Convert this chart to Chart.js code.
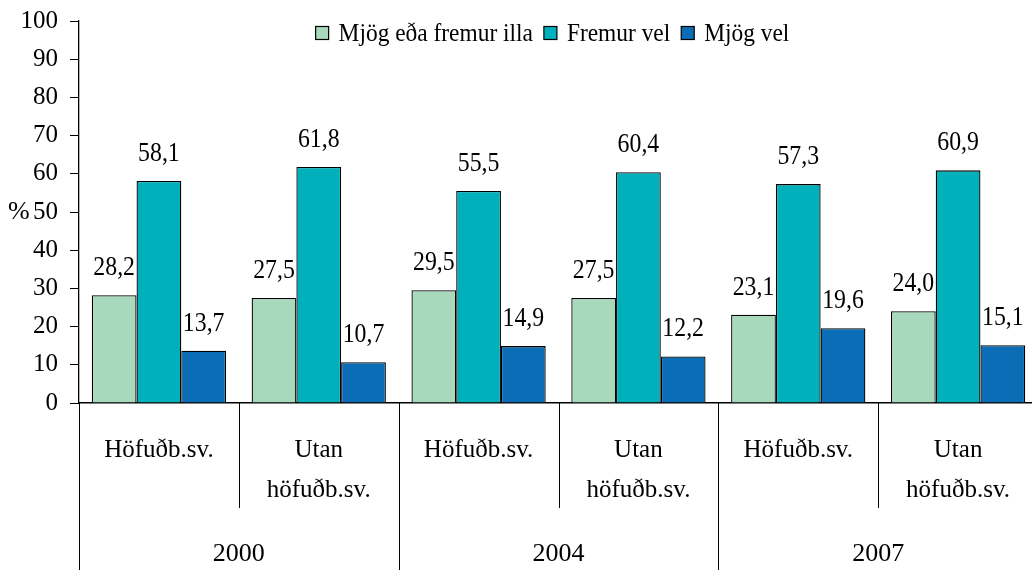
<!DOCTYPE html>
<html>
<head>
<meta charset="utf-8">
<script src="https://cdn.jsdelivr.net/npm/chart.js@4.4.1/dist/chart.umd.min.js"></script>
<style>
  html, body { margin: 0; padding: 0; overflow: hidden; background: #fff; }
  #wrap { width: 1040px; height: 570px; }
</style>
</head>
<body>
<div id="wrap"><canvas id="c" width="1040" height="570"></canvas></div>
<script>
// ---- data ----
const categories = ['Höfuðb.sv.', ['Utan', 'höfuðb.sv.'], 'Höfuðb.sv.', ['Utan', 'höfuðb.sv.'], 'Höfuðb.sv.', ['Utan', 'höfuðb.sv.']];
const years = ['2000', '2004', '2007'];
const seriesNames = ['Mjög eða fremur illa', 'Fremur vel', 'Mjög vel'];
const illa = [28.2, 27.5, 29.5, 27.5, 23.1, 24.0];
const fremurVel = [58.1, 61.8, 55.5, 60.4, 57.3, 60.9];
const mjogVel = [13.7, 10.7, 14.9, 12.2, 19.6, 15.1];
const yTicks = [0, 10, 20, 30, 40, 50, 60, 70, 80, 90, 100];
const yAxisLabel = '%';

const colors = ['#A9D9BC', '#00B1BC', '#0B6DB6'];
const FONT = '"Liberation Serif", "Times New Roman", serif';

const fmt = v => v.toFixed(1).replace('.', ',');

const extras = {
  id: 'extras',
  afterDraw(chart) {
    const ctx = chart.ctx;
    const xs = chart.scales.x, ys = chart.scales.y;
    ctx.save();
    // separators below axis
    const n = categories.length;
    ctx.strokeStyle = '#000';
    ctx.lineWidth = 1;
    for (let i = 0; i <= n; i++) {
      const bx = Math.round(xs.left + i * xs.width / n) + 0.5;
      const long = (i % 2 === 0);
      ctx.beginPath();
      ctx.moveTo(bx, xs.top);
      ctx.lineTo(bx, long ? chart.height : xs.top + 105);
      ctx.stroke();
    }
    // data labels
    ctx.fillStyle = '#000';
    ctx.font = '28px ' + FONT;
    ctx.textAlign = 'center';
    ctx.textBaseline = 'alphabetic';
    chart.data.datasets.forEach((ds, di) => {
      const meta = chart.getDatasetMeta(di);
      meta.data.forEach((bar, j) => {
        ctx.save();
        ctx.translate(bar.x, bar.y - 20);
        ctx.scale(0.85, 1);
        ctx.fillText(fmt(ds.data[j]), 0, 0);
        ctx.restore();
      });
    });
    // % label
    ctx.font = '26px ' + FONT;
    ctx.textAlign = 'left';
    ctx.textBaseline = 'middle';
    ctx.fillText(yAxisLabel, 8, ys.getPixelForValue(50));
    // legend
    const sx = 0.9, box = 13, g1 = 10, g2 = 11;
    ctx.font = '26px ' + FONT;
    const widths = chart.data.datasets.map(d => ctx.measureText(d.label).width * sx);
    const total = widths.reduce((a, w) => a + box + g1 + w, 0) + g2 * (widths.length - 1);
    let x = (xs.left + xs.right) / 2 - 6 - total / 2;
    const ly = 34;
    chart.data.datasets.forEach((d, i) => {
      ctx.fillStyle = d.backgroundColor;
      ctx.fillRect(x, ly - box / 2 - 1, box, box);
      ctx.strokeStyle = '#000';
      ctx.lineWidth = 1.2;
      ctx.strokeRect(x, ly - box / 2 - 1, box, box);
      x += box + g1;
      ctx.fillStyle = '#000';
      ctx.save();
      ctx.translate(x, ly);
      ctx.scale(sx, 1);
      ctx.fillText(d.label, 0, 0);
      ctx.restore();
      x += widths[i] + g2;
    });
    ctx.restore();
  }
};

new Chart(document.getElementById('c'), {
  type: 'bar',
  data: {
    labels: categories,
    datasets: [
      { label: seriesNames[0], data: illa, backgroundColor: colors[0] },
      { label: seriesNames[1], data: fremurVel, backgroundColor: colors[1] },
      { label: seriesNames[2], data: mjogVel, backgroundColor: colors[2] }
    ].map(d => Object.assign(d, { borderColor: '#000', borderWidth: 1.3, borderSkipped: 'start', categoryPercentage: 0.84, barPercentage: 1.0 }))
  },
  options: {
    responsive: false,
    animation: false,
    layout: { padding: { top: 21, right: 2, left: 0, bottom: 0 } },
    plugins: { legend: { display: false }, tooltip: { enabled: false } },
    scales: {
      y: {
        min: 0, max: 100,
        afterBuildTicks: s => { s.ticks = yTicks.map(v => ({ value: v })); },
        afterFit: s => { s.width = 79; s.paddingTop = 0; s.paddingBottom = 0; },
        grid: { drawOnChartArea: false, drawTicks: true, tickLength: 9, color: '#000', lineWidth: 1 },
        border: { display: true, color: '#000', width: 1.3 },
        ticks: { color: '#000', padding: 12, font: { family: FONT, size: 25 } }
      },
      x: {
        afterFit: s => { s.height = 120; s.paddingLeft = 0; s.paddingRight = 0; },
        grid: { display: false, drawTicks: false },
        border: { display: true, color: '#000', width: 1.5 },
        ticks: { color: '#000', padding: 27, maxRotation: 0, autoSkip: false, font: { family: FONT, size: 25, lineHeight: 1.6 } }
      },
      x2: {
        type: 'category',
        labels: years,
        position: 'bottom',
        offset: true,
        afterFit: s => { s.height = 47; s.paddingLeft = 0; s.paddingRight = 0; },
        grid: { display: false, drawTicks: false },
        border: { display: false },
        ticks: { color: '#000', padding: 16, maxRotation: 0, autoSkip: false, font: { family: FONT, size: 26 } }
      }
    }
  },
  plugins: [extras]
});
</script>
</body>
</html>
